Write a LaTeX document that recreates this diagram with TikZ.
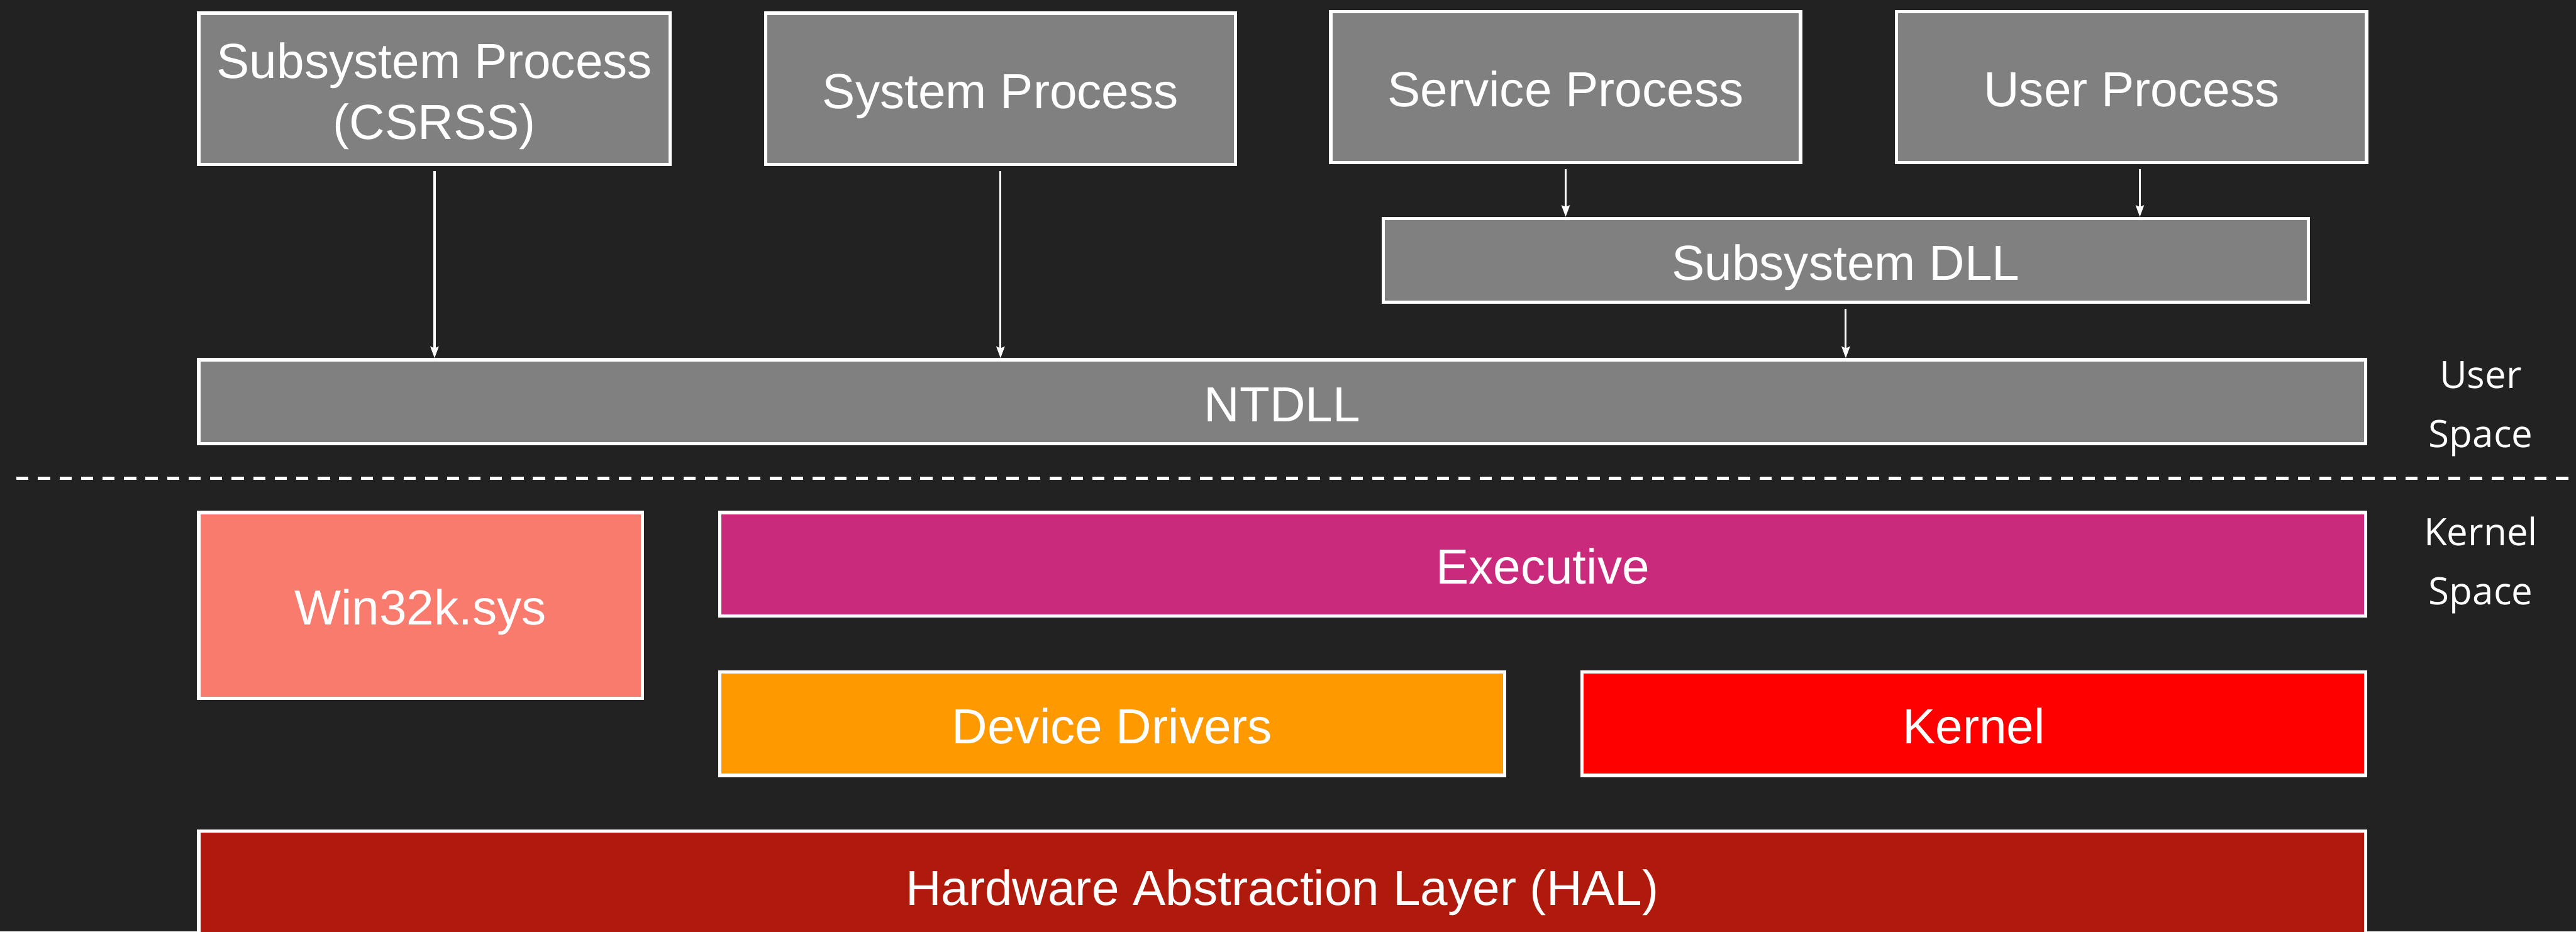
\documentclass[tikz,border=0pt]{standalone}
\usepackage{fontspec}
\setmainfont{Liberation Sans}
\newfontfamily\sidefont{Open Sans}
\usetikzlibrary{arrows.meta}

\definecolor{bgdark}{HTML}{222222}
\definecolor{procgray}{HTML}{808080}
\definecolor{winsalmon}{HTML}{F87B6E}
\definecolor{execpink}{HTML}{CA2A7C}
\definecolor{drvorange}{HTML}{FF9900}
\definecolor{kernred}{HTML}{FF0000}
\definecolor{halred}{HTML}{B01A0C}

\begin{document}
\begin{tikzpicture}[x=1pt,y=-1pt]
    \newcommand{\boxH}[0]{92pt}
    \newcommand{\barH}[0]{51pt}
    \newcommand{\layH}[0]{63pt}

    \tikzstyle{dedge} = [line width=1.2pt,-{Stealth[length=7pt,width=5pt,inset=1pt]},draw=white,shorten <=3pt]

    \tikzstyle{layer}=[
      rectangle,
      draw=white,
      line width=2pt,
      text=white,
      anchor=center,
      inner sep=0pt,
      align=center,
      text height=24pt,
      text depth=0pt,
      font=\fontsize{30}{37}\selectfont,
    ]

    \tikzstyle{side}=[
      text=white,
      align=center,
      font=\sidefont\fontsize{23}{36}\selectfont,
    ]

    \useasboundingbox (0,0) rectangle (1568,567);
    \fill[bgdark] (0,0) rectangle (1568,567);

    % user space
    \node[layer,fill=procgray,minimum width=287pt,minimum height=\boxH,text height=61.5pt] (csrss) at (264.5,54) {Subsystem Process\\(CSRSS)};
    \node[layer,fill=procgray,minimum width=286pt,minimum height=\boxH] (sysproc) at (609,54) {System Process};
    \node[layer,fill=procgray,minimum width=286pt,minimum height=\boxH] (svcproc) at (953,53) {Service Process};
    \node[layer,fill=procgray,minimum width=286pt,minimum height=\boxH] (userproc) at (1297.5,53) {User Process};
    \node[layer,fill=procgray,minimum width=563pt,minimum height=\barH] (subdll) at (1123.5,158.5) {Subsystem DLL};
    \node[layer,fill=procgray,minimum width=1319pt,minimum height=\barH] (ntdll) at (780.5,244.5) {NTDLL};

    \node[side] (userlbl) at (1510,249) {User\\Space};
    \draw[white,line width=2pt,dash pattern=on 7.4pt off 5.7pt] (10,291) -- (1568,291);
    \node[side] (kernellbl) at (1510,344) {Kernel\\Space};

    % kernel space
    \node[layer,fill=winsalmon,minimum width=270pt,minimum height=113pt] (win32k) at (256,368.5) {Win32k.sys};
    \node[layer,fill=execpink,minimum width=1002pt,minimum height=\layH] (executive) at (939,343.5) {Executive};
    \node[layer,fill=drvorange,minimum width=478pt,minimum height=\layH] (drivers) at (677,440.5) {Device Drivers};
    \node[layer,fill=kernred,minimum width=477pt,minimum height=\layH] (kernel) at (1201.5,440.5) {Kernel};
    \node[layer,fill=halred,minimum width=1319pt,minimum height=66pt] (hal) at (780.5,539) {Hardware Abstraction Layer (HAL)};

    \draw[dedge] (csrss.south) -- (csrss.south |- ntdll.north);
    \draw[dedge] (sysproc.south) -- (sysproc.south |- ntdll.north);
    \draw[dedge] (svcproc.south) -- (svcproc.south |- subdll.north);
    \draw[dedge] ([xshift=5pt]userproc.south) -- ([xshift=5pt]userproc.south |- subdll.north);
    \draw[dedge] (subdll.south) -- (subdll.south |- ntdll.north);
\end{tikzpicture}
\end{document}
